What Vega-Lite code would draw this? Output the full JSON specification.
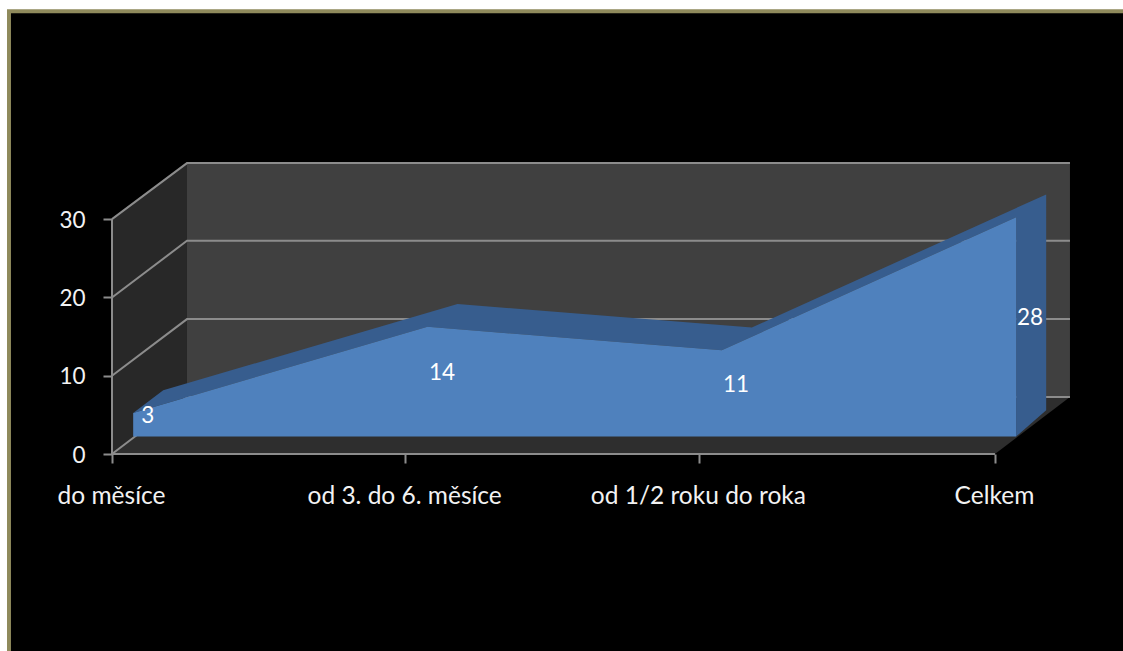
{
  "$schema": "https://vega.github.io/schema/vega-lite/v6.json",
  "width": 1123,
  "height": 651,
  "padding": 0,
  "autosize": "none",
  "background": "#ffffff",
  "config": {"view": {"stroke": null}, "font": "Lato"},
  "datasets": {
    "panel": [
      {"part": "frame", "x": -0.3567, "x2": 3.435, "y": 56.81, "y2": -25.15},
      {"part": "black", "x": -0.3432, "x2": 3.435, "y": 56.3, "y2": -25.15}
    ],
    "walls": [
      {"part": "side", "seq": 0, "x": 0, "y": 0},
      {"part": "side", "seq": 1, "x": 0, "y": 30},
      {"part": "side", "seq": 2, "x": 0.2548, "y": 37.15},
      {"part": "side", "seq": 3, "x": 0.2548, "y": 7.3},
      {"part": "back", "seq": 0, "x": 0.2548, "y": 37.15},
      {"part": "back", "seq": 1, "x": 3.2548, "y": 37.15},
      {"part": "back", "seq": 2, "x": 3.2548, "y": 7.3},
      {"part": "back", "seq": 3, "x": 0.2548, "y": 7.3},
      {"part": "floor", "seq": 0, "x": 0, "y": 0},
      {"part": "floor", "seq": 1, "x": 0.2548, "y": 7.3},
      {"part": "floor", "seq": 2, "x": 3.2548, "y": 7.3},
      {"part": "floor", "seq": 3, "x": 3, "y": 0}
    ],
    "gridlines": [
      {"line": "g0", "seq": 0, "x": 0, "y": 0},
      {"line": "g0", "seq": 1, "x": 0.2548, "y": 7.3},
      {"line": "g0", "seq": 2, "x": 3.2548, "y": 7.3},
      {"line": "g10", "seq": 0, "x": 0, "y": 10},
      {"line": "g10", "seq": 1, "x": 0.2548, "y": 17.23},
      {"line": "g10", "seq": 2, "x": 3.2548, "y": 17.23},
      {"line": "g20", "seq": 0, "x": 0, "y": 20},
      {"line": "g20", "seq": 1, "x": 0.2548, "y": 27.23},
      {"line": "g20", "seq": 2, "x": 3.2548, "y": 27.23},
      {"line": "g30", "seq": 0, "x": 0, "y": 30},
      {"line": "g30", "seq": 1, "x": 0.2548, "y": 37.15},
      {"line": "g30", "seq": 2, "x": 3.2548, "y": 37.15},
      {"line": "axisY", "seq": 0, "x": 0, "y": 0},
      {"line": "axisY", "seq": 1, "x": 0, "y": 30},
      {"line": "axisX", "seq": 0, "x": 0, "y": 0},
      {"line": "axisX", "seq": 1, "x": 3, "y": 0}
    ],
    "depth": [
      {"seq": 0, "x": 0.072, "y": 5.25},
      {"seq": 1, "x": 1.072, "y": 16.25},
      {"seq": 2, "x": 2.072, "y": 13.25},
      {"seq": 3, "x": 3.072, "y": 30.25},
      {"seq": 4, "x": 3.072, "y": 2.25},
      {"seq": 5, "x": 3.174, "y": 5.6},
      {"seq": 6, "x": 3.174, "y": 33.15},
      {"seq": 7, "x": 2.174, "y": 16.15},
      {"seq": 8, "x": 1.174, "y": 19.15},
      {"seq": 9, "x": 0.174, "y": 8.15}
    ],
    "series": [
      {"category": "do měsíce", "value": 3, "x": 0.072, "y": 5.25, "y2": 2.25, "lx": 0.122, "ly": 4.9},
      {"category": "od 3. do 6. měsíce", "value": 14, "x": 1.072, "y": 16.25, "y2": 2.25, "lx": 1.121, "ly": 10.37},
      {"category": "od 1/2 roku do roka", "value": 11, "x": 2.072, "y": 13.25, "y2": 2.25, "lx": 2.12, "ly": 8.84},
      {"category": "Celkem", "value": 28, "x": 3.072, "y": 30.25, "y2": 2.25, "lx": 3.119, "ly": 17.36}
    ]
  },
  "encoding": {
    "x": {
      "field": "x",
      "type": "quantitative",
      "scale": {"domain": [-0.3805, 3.435], "nice": false, "zero": false},
      "axis": {
        "title": null,
        "orient": "bottom",
        "offset": -197,
        "zindex": 1,
        "domain": false,
        "grid": false,
        "values": [0, 0.996, 1.994, 3],
        "labelExpr": "['do měsíce', 'od 3. do 6. měsíce', 'od 1/2 roku do roka', 'Celkem'][round(datum.value)]",
        "tickColor": "#8c8c8c",
        "tickWidth": 2,
        "tickSize": 9,
        "labelColor": "#f2f2f2",
        "labelFont": "Lato",
        "labelFontSize": 24.5,
        "labelLimit": 400,
        "labelPadding": 21,
        "labelOffset": -1,
        "labelBound": false,
        "labelFlush": false,
        "labelOverlap": false
      }
    },
    "y": {
      "field": "y",
      "type": "quantitative",
      "scale": {"domain": [-25.15, 57.98], "nice": false, "zero": false},
      "axis": {
        "title": null,
        "orient": "left",
        "offset": -112,
        "zindex": 1,
        "domain": false,
        "grid": false,
        "values": [0, 10, 20, 30],
        "tickColor": "#8c8c8c",
        "tickWidth": 2,
        "tickSize": 9,
        "labelColor": "#f2f2f2",
        "labelFont": "Lato",
        "labelFontSize": 22.5,
        "labelPadding": 18,
        "labelOffset": 1,
        "labelBound": false,
        "labelFlush": false,
        "labelOverlap": false
      }
    }
  },
  "layer": [
    {
      "data": {"name": "panel"},
      "mark": {"type": "rect"},
      "encoding": {
        "x2": {"field": "x2"},
        "y2": {"field": "y2"},
        "fill": {
          "field": "part",
          "type": "nominal",
          "scale": {"domain": ["frame", "black", "side", "back", "floor"], "range": ["#8f8a5c", "#000000", "#282828", "#404040", "#2e2e2e"]},
          "legend": null
        }
      }
    },
    {
      "data": {"name": "walls"},
      "mark": {"type": "line", "interpolate": "linear-closed", "strokeWidth": 0},
      "encoding": {
        "order": {"field": "seq", "type": "quantitative"},
        "fill": {
          "field": "part",
          "type": "nominal",
          "scale": {"domain": ["frame", "black", "side", "back", "floor"], "range": ["#8f8a5c", "#000000", "#282828", "#404040", "#2e2e2e"]},
          "legend": null
        }
      }
    },
    {
      "data": {"name": "gridlines"},
      "mark": {"type": "line", "stroke": "#8c8c8c", "strokeWidth": 2},
      "encoding": {
        "detail": {"field": "line", "type": "nominal"},
        "order": {"field": "seq", "type": "quantitative"}
      }
    },
    {
      "data": {"name": "depth"},
      "mark": {"type": "line", "interpolate": "linear-closed", "strokeWidth": 0, "fill": "#375d8e"},
      "encoding": {
        "order": {"field": "seq", "type": "quantitative"}
      }
    },
    {
      "data": {"name": "series"},
      "mark": {"type": "area", "fill": "#4f81bd"},
      "encoding": {"y2": {"field": "y2"}}
    },
    {
      "data": {"name": "series"},
      "mark": {"type": "text", "font": "Lato", "fontSize": 22.5, "fill": "#ffffff", "align": "center", "baseline": "middle"},
      "encoding": {
        "x": {"field": "lx", "type": "quantitative"},
        "y": {"field": "ly", "type": "quantitative"},
        "text": {"field": "value", "type": "quantitative"}
      }
    }
  ]
}
